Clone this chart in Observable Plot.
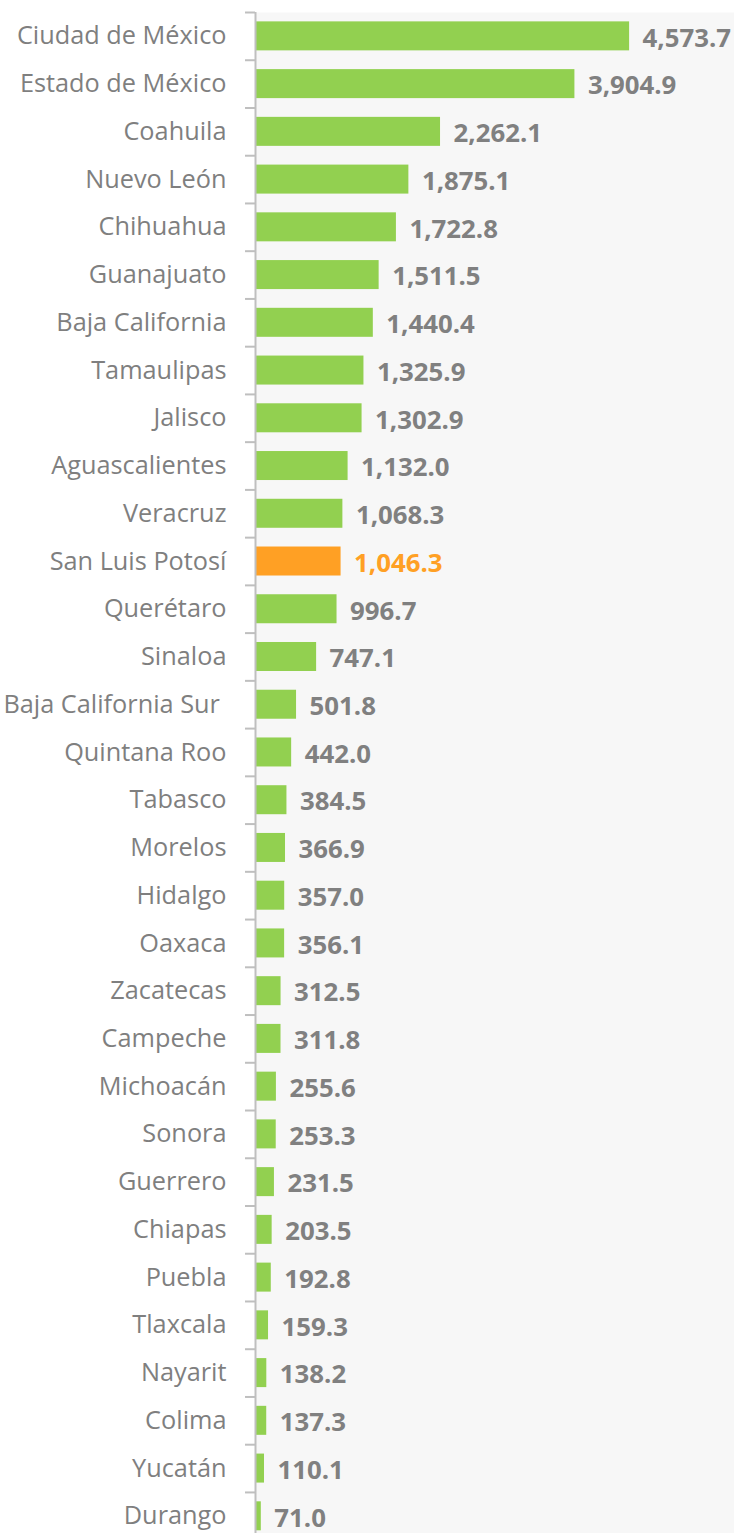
<!DOCTYPE html>
<html>
<head>
<meta charset="utf-8">
<script src="https://cdn.jsdelivr.net/npm/d3@7"></script>
<script src="https://cdn.jsdelivr.net/npm/@observablehq/plot@0.6"></script>
<style>
  html, body { margin: 0; padding: 0; background: #ffffff; }
  #chart svg { display: block; }
</style>
</head>
<body>
<div id="chart"></div>
<script>
const states = ["Ciudad de México","Estado de México","Coahuila","Nuevo León","Chihuahua","Guanajuato","Baja California","Tamaulipas","Jalisco","Aguascalientes","Veracruz","San Luis Potosí","Querétaro","Sinaloa","Baja California Sur ","Quintana Roo","Tabasco","Morelos","Hidalgo","Oaxaca","Zacatecas","Campeche","Michoacán","Sonora","Guerrero","Chiapas","Puebla","Tlaxcala","Nayarit","Colima","Yucatán","Durango"];
const values = [4573.7,3904.9,2262.1,1875.1,1722.8,1511.5,1440.4,1325.9,1302.9,1132.0,1068.3,1046.3,996.7,747.1,501.8,442.0,384.5,366.9,357.0,356.1,312.5,311.8,255.6,253.3,231.5,203.5,192.8,159.3,138.2,137.3,110.1,71.0];
const highlight = "San Luis Potosí";

const data = states.map((s, i) => ({state: s, value: values[i], hi: s === highlight}));
const fmt = d3.format(",.1f");
const W = 734, H = 1533;
const band = 47.74;
const plotTop = 12;
const barInset = (band - 29) / 2;

const chart = Plot.plot({
  width: W,
  height: H,
  marginLeft: 255,
  marginRight: 0,
  marginTop: plotTop,
  marginBottom: 0,
  style: {fontFamily: "'Open Sans', sans-serif", background: "#ffffff"},
  x: {domain: [0, 5856], axis: null},
  y: {domain: states, range: [plotTop, plotTop + band * states.length], padding: 0, round: false, axis: null},
  marks: [
    Plot.frame({fill: "#f7f7f7", stroke: null}),
    Plot.barX(data, {x: "value", y: "state", insetTop: barInset, insetBottom: barInset, fill: d => d.hi ? "#ffa024" : "#92d050"}),
    Plot.ruleX([0], {stroke: "#bfbfbf", strokeWidth: 2}),
    Plot.ruleY(data, {y: "state", x1: -122, x2: 0, dy: -band / 2, stroke: "#bfbfbf", strokeWidth: 2}),
    Plot.text(data, {x: 0, y: "state", text: "state", textAnchor: "end", dx: -29, fontSize: 25.3, fill: "#7f7f7f"}),
    Plot.text(data, {x: "value", y: "state", text: d => fmt(d.value), textAnchor: "start", dx: 13, dy: 2, fontSize: 25.8, fontWeight: "bold", fill: d => d.hi ? "#ffa024" : "#808080"})
  ]
});
document.getElementById("chart").appendChild(chart);
</script>
</body>
</html>
